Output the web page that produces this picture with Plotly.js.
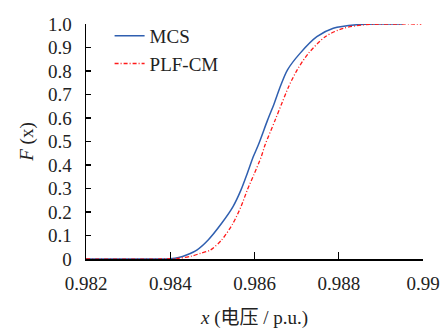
<!DOCTYPE html>
<html>
<head>
<meta charset="utf-8">
<script src="https://cdn.plot.ly/plotly-3.0.1.min.js"></script>
<style>html,body{margin:0;padding:0;background:#fff;}#chart{width:444px;height:329px;}</style>
</head>
<body>
<div id="chart"></div>
<script>
const mcsX = [0.982, 0.9835, 0.9840, 0.9842, 0.9844, 0.98463, 0.98490, 0.98522, 0.98549, 0.98568, 0.98583, 0.98597, 0.98609, 0.98631, 0.98647, 0.98661, 0.98678, 0.98708, 0.98748, 0.98787, 0.98843, 0.9890, 0.98951];
const mcsF = [0, 0, 0.001, 0.006, 0.018, 0.038, 0.081, 0.152, 0.223, 0.294, 0.365, 0.435, 0.485, 0.591, 0.663, 0.733, 0.804, 0.875, 0.946, 0.982, 0.997, 1.0, 1.0];
const plfX = [0.982, 0.9838, 0.9842, 0.9845, 0.98473, 0.98495, 0.98522, 0.98549, 0.98568, 0.98583, 0.98600, 0.98616, 0.98625, 0.98649, 0.98665, 0.98681, 0.98701, 0.98728, 0.98768, 0.98811, 0.98863, 0.98946, 0.98996];
const plfF = [0, 0, 0.003, 0.012, 0.025, 0.038, 0.081, 0.152, 0.223, 0.294, 0.365, 0.435, 0.485, 0.591, 0.663, 0.733, 0.804, 0.875, 0.946, 0.982, 0.997, 1.0, 1.0];
const xTicks = [0.982, 0.984, 0.986, 0.988, 0.99];
const xTickText = ["0.982", "0.984", "0.986", "0.988", "0.99"];
const yTicks = [0, 0.1, 0.2, 0.3, 0.4, 0.5, 0.6, 0.7, 0.8, 0.9, 1.0];
const yTickText = ["0", "0.1", "0.2", "0.3", "0.4", "0.5", "0.6", "0.7", "0.8", "0.9", "1.0"];

const fontFam = "Liberation Serif, 'Times New Roman', 'Noto Sans CJK SC', serif";
const traces = [
  {x: mcsX, y: mcsF, name: "MCS", mode: "lines", line: {color: "#2f5fb0", width: 1.5, shape: "spline", smoothing: 0.8}},
  {x: plfX, y: plfF, name: "PLF-CM", mode: "lines", line: {color: "#ff1a1a", width: 1.3, dash: "4px,2px,1px,2px", shape: "spline", smoothing: 0.8}}
];
const layout = {
  width: 444, height: 329,
  margin: {l: 86, r: 21, t: 24, b: 70},
  paper_bgcolor: "#fff", plot_bgcolor: "#fff",
  font: {family: fontFam, size: 19, color: "#222"},
  showlegend: true,
  legend: {x: 0.07, y: 1.03, xanchor: "left", yanchor: "top", bgcolor: "rgba(0,0,0,0)", itemwidth: 30, font: {size: 19}, tracegroupgap: 0},
  xaxis: {
    range: [0.982, 0.99], tickvals: xTicks, ticktext: xTickText,
    ticks: "inside", ticklen: 7, tickwidth: 1.3, tickcolor: "#000", ticklabelstandoff: 7,
    showline: true, linecolor: "#000", linewidth: 1.5, showgrid: false, zeroline: false,
    title: {text: "<i>x</i> (电压 / p.u.)", font: {size: 19}, standoff: 17},
    automargin: false
  },
  yaxis: {
    range: [0, 1.0], tickvals: yTicks, ticktext: yTickText,
    ticks: "inside", ticklen: 5, tickwidth: 1.3, tickcolor: "#000", ticklabelstandoff: 9,
    showline: true, linecolor: "#000", linewidth: 1.5, showgrid: false, zeroline: false,
    title: {text: "<i>F</i> (x)", font: {size: 19}, standoff: 9},
    automargin: false
  }
};
Plotly.newPlot("chart", traces, layout, {staticPlot: true});
</script>
</body>
</html>
